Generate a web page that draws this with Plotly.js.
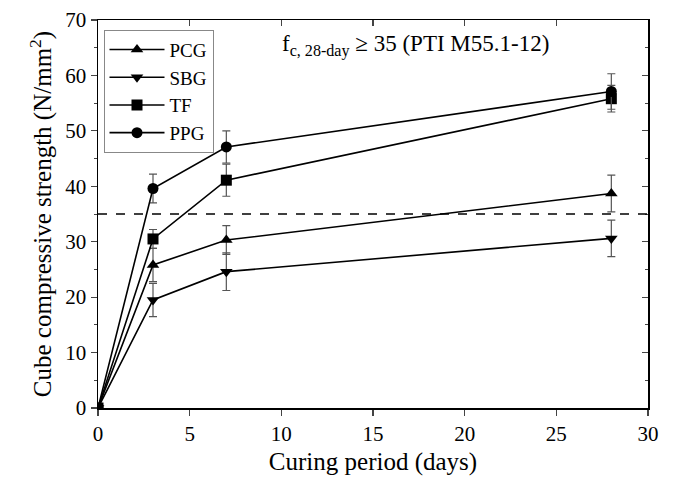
<!DOCTYPE html>
<html>
<head>
<meta charset="utf-8">
<script src="https://cdn.plot.ly/plotly-3.0.1.min.js"></script>
<style>html,body{margin:0;padding:0;background:#fff;}</style>
</head>
<body>
<div id="chart" style="width:674px;height:480px;"></div>
<script>
const days = [0, 3, 7, 28];
const seriesNames = ["PCG", "SBG", "TF", "PPG"];
const pcg = [0, 25.8, 30.3, 38.7];
const pcgErr = [0, 3.0, 2.6, 3.3];
const sbg = [0, 19.5, 24.6, 30.6];
const sbgErr = [0, 3.0, 3.4, 3.3];
const tf = [0, 30.5, 41.1, 55.8];
const tfErr = [0, 1.7, 2.9, 2.4];
const ppg = [0, 39.6, 47.1, 57.1];
const ppgErr = [0, 2.6, 2.9, 3.2];
const limitValue = 35;
const xTicks = [0, 5, 10, 15, 20, 25, 30];
const yTicks = [0, 10, 20, 30, 40, 50, 60, 70];

const symbols = ["triangle-up", "triangle-down", "square", "circle"];
const values = [pcg, sbg, tf, ppg];
const errs = [pcgErr, sbgErr, tfErr, ppgErr];

const traces = seriesNames.map((n, i) => ({
  type: "scatter",
  mode: "lines+markers",
  name: n,
  x: days,
  y: values[i],
  line: {color: "#000", width: 1.6},
  marker: {symbol: symbols[i], size: 11, color: "#000"},
  error_y: {type: "data", array: errs[i], visible: true, color: "#555", thickness: 1.2, width: 4}
}));

const font = "Liberation Serif";
const layout = {
  width: 674, height: 480,
  margin: {l: 98, r: 26, t: 20, b: 72},
  paper_bgcolor: "#fff", plot_bgcolor: "#fff",
  font: {family: font, color: "#000", size: 20},
  showlegend: true,
  legend: {x: 0.01, y: 0.975, xanchor: "left", yanchor: "top",
    bordercolor: "#888", borderwidth: 1, bgcolor: "#fff",
    font: {family: font, size: 19}, tracegroupgap: 0, itemwidth: 55},
  xaxis: {range: [0, 30], tickvals: xTicks, ticks: "outside", ticklen: 6, tickwidth: 1.2,
    showline: true, linecolor: "#000", linewidth: 1.5, showgrid: false, zeroline: false,
    title: {text: "Curing period (days)", font: {family: font, size: 25}, standoff: 8},
    tickfont: {family: font, size: 21}},
  yaxis: {range: [0, 70], tickvals: yTicks, ticks: "outside", ticklen: 6, tickwidth: 1.2,
    showline: true, linecolor: "#000", linewidth: 1.5, showgrid: false, zeroline: false,
    minor: {dtick: 5, ticks: "outside", ticklen: 3, tickwidth: 1},
    title: {text: "Cube compressive strength (N/mm<sup>2</sup>)", font: {family: font, size: 25}, standoff: 6},
    tickfont: {family: font, size: 21}},
  xaxis2: {overlaying: "x", side: "top", range: [0, 30], tickvals: xTicks, ticks: "inside",
    ticklen: 6, tickwidth: 1.2, showticklabels: false, showline: true, linecolor: "#000",
    linewidth: 1.5, showgrid: false, zeroline: false},
  yaxis2: {overlaying: "y", side: "right", range: [0, 70], tickvals: yTicks, ticks: "inside",
    ticklen: 6, tickwidth: 1.2, showticklabels: false, showline: true, linecolor: "#000",
    linewidth: 1.5, showgrid: false, zeroline: false,
    minor: {dtick: 5, ticks: "inside", ticklen: 3, tickwidth: 1}},
  shapes: [{type: "line", xref: "paper", x0: 0, x1: 1, yref: "y", y0: limitValue, y1: limitValue,
    line: {color: "#000", width: 1.6, dash: "dash"}}],
  annotations: [{xref: "paper", yref: "paper", x: 0.33, y: 0.935, xanchor: "left", yanchor: "middle",
    showarrow: false, text: "f<sub>c, 28-day</sub> ≥ 35 (PTI M55.1-12)",
    font: {family: font, size: 23, color: "#000"}}]
};

traces.push({type: "scatter", x: [0], y: [0], xaxis: "x2", yaxis: "y2", mode: "markers",
  marker: {opacity: 0}, showlegend: false, hoverinfo: "skip"});

Plotly.newPlot("chart", traces, layout, {displayModeBar: false, staticPlot: true});
</script>
</body>
</html>
